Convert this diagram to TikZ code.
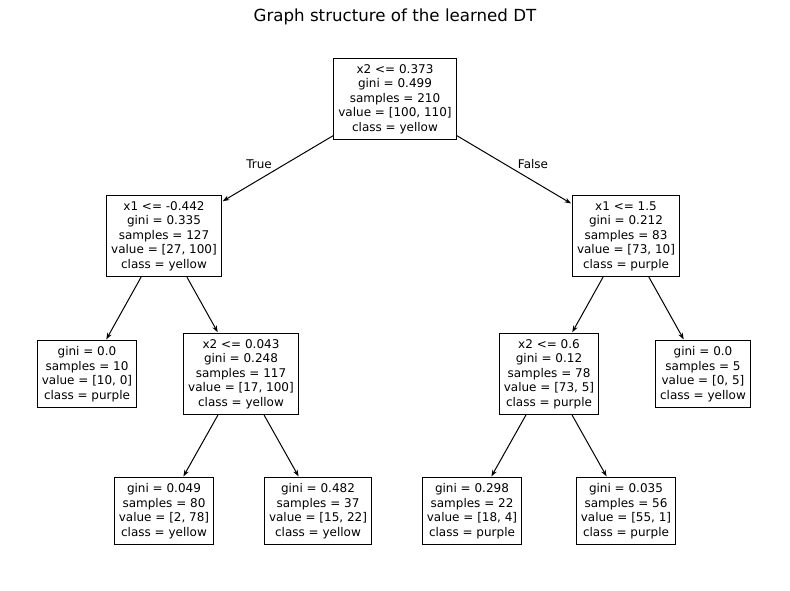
\documentclass[tikz,border=0pt]{standalone}
\usepackage{fontspec}
\setmainfont{DejaVu Sans}
\usetikzlibrary{arrows.meta}
\begin{document}
\begin{tikzpicture}[x=0.75pt,y=-0.75pt,
  box/.style={draw=black,line width=0.75pt,fill=white,align=center,inner xsep=3.6pt,inner ysep=4.4pt,font=\fontsize{9}{10.9}\selectfont},
  arr/.style={draw=black,line width=0.75pt,-{Stealth[length=5pt,width=3.6pt]},shorten >=0.5pt},
  lbl/.style={font=\fontsize{9}{10.9}\selectfont,inner sep=0pt}]
\useasboundingbox[fill=white] (0,0) rectangle (790,590);
\node[font=\fontsize{12.5}{15}\selectfont] (title) at (395,17) {Graph structure of the learned DT};
\node[box] (n0) at (395,99) {x2 <= 0.373\\gini = 0.499\\samples = 210\\value = [100, 110]\\class = yellow};
\node[box] (n1) at (164,236) {x1 <= -0.442\\gini = 0.335\\samples = 127\\value = [27, 100]\\class = yellow};
\node[box] (n2) at (626,236) {x1 <= 1.5\\gini = 0.212\\samples = 83\\value = [73, 10]\\class = purple};
\node[box] (n3) at (87,374) {gini = 0.0\\samples = 10\\value = [10, 0]\\class = purple};
\node[box] (n4) at (241,374) {x2 <= 0.043\\gini = 0.248\\samples = 117\\value = [17, 100]\\class = yellow};
\node[box] (n5) at (549,374) {x2 <= 0.6\\gini = 0.12\\samples = 78\\value = [73, 5]\\class = purple};
\node[box] (n6) at (703,374) {gini = 0.0\\samples = 5\\value = [0, 5]\\class = yellow};
\node[box] (n7) at (164,511) {gini = 0.049\\samples = 80\\value = [2, 78]\\class = yellow};
\node[box] (n8) at (318,511) {gini = 0.482\\samples = 37\\value = [15, 22]\\class = yellow};
\node[box] (n9) at (472,511) {gini = 0.298\\samples = 22\\value = [18, 4]\\class = purple};
\node[box] (n10) at (626,511) {gini = 0.035\\samples = 56\\value = [55, 1]\\class = purple};
\draw[arr] (n0) -- (n1);
\draw[arr] (n0) -- (n2);
\draw[arr] (n1) -- (n3);
\draw[arr] (n1) -- (n4);
\draw[arr] (n2) -- (n5);
\draw[arr] (n2) -- (n6);
\draw[arr] (n4) -- (n7);
\draw[arr] (n4) -- (n8);
\draw[arr] (n5) -- (n9);
\draw[arr] (n5) -- (n10);
\node[lbl] (t) at (259,164) {True};
\node[lbl] (f) at (533,164) {False};
\end{tikzpicture}
\end{document}
